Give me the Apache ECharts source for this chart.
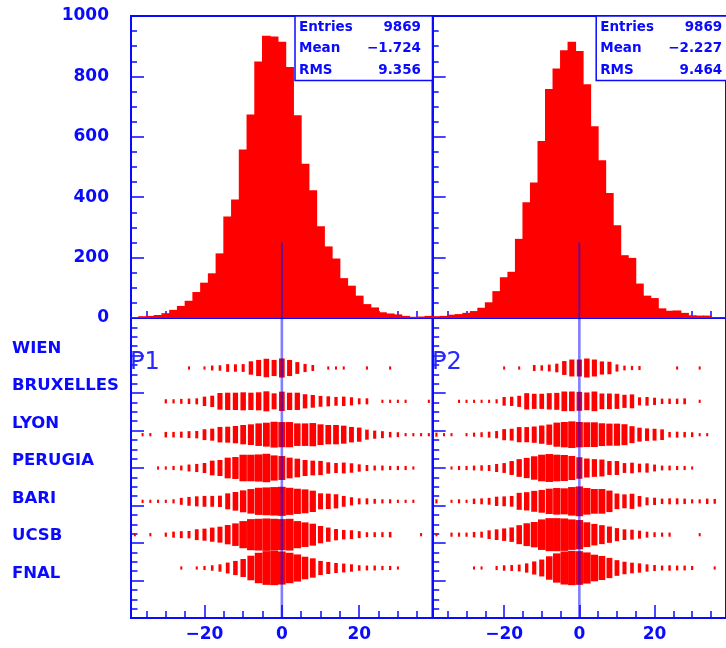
<!DOCTYPE html>
<html>
<head>
<meta charset="utf-8">
<script src="https://cdn.jsdelivr.net/npm/echarts@6/dist/echarts.min.js"></script>
<style>
  html, body { margin: 0; padding: 0; background: #fff; }
  #main { width: 726px; height: 648px; }
</style>
</head>
<body>
<div id="main"></div>
<script>
// bin centres (bin width 2, range -39..39)
const binCenters = [-38,-36,-34,-32,-30,-28,-26,-24,-22,-20,-18,-16,-14,-12,-10,-8,-6,-4,-2,0,
                    2,4,6,8,10,12,14,16,18,20,22,24,26,28,30,32,34,36,38]

// 1D histograms (top row)
const histP1 = [3,6,7,10,16,27,40,57,86,117,148,214,336,392,558,674,849,935,932,915,
                831,671,511,423,304,237,197,132,107,74,46,35,19,15,12,7,4,5,7]
const histP2 = [6,7,11,13,17,23,34,52,89,135,153,262,383,449,586,758,826,887,915,884,
                774,635,522,414,307,208,199,114,74,66,32,24,25,17,9,8,8,3,2]

// labs, top to bottom
const labs = ['WIEN', 'BRUXELLES', 'LYON', 'PERUGIA', 'BARI', 'UCSB', 'FNAL']

// P1 per lab
const p1Wien     = [0,0,0,0,0,0,0,1,0,1,3,4,9,8,9,30,45,60,45,64,45,23,10,5,0,1,1,1,0,0,1,0,0,1,0,0,0,0,0]
const p1Bruxelles= [0,0,0,0,2,2,3,4,5,14,21,48,52,52,57,52,57,71,44,66,52,52,34,27,19,16,12,14,10,5,5,0,1,1,1,1,0,0,1]
const p1Lyon     = [0,1,1,0,4,4,5,7,8,19,24,41,44,52,66,76,91,103,121,115,115,91,91,97,76,66,66,57,41,34,16,10,7,4,3,1,1,1,1]
const p1Perugia  = [0,0,0,1,1,2,3,7,10,16,37,44,76,86,128,128,134,148,115,103,76,61,44,37,34,21,16,19,14,8,5,3,3,2,2,2,1,0,0]
const p1Bari     = [0,1,1,1,1,2,7,12,16,19,19,21,44,61,86,109,134,141,148,155,134,115,103,81,44,41,34,19,10,5,5,3,2,2,1,1,1,0,0]
const p1Ucsb     = [1,0,1,0,2,5,7,8,19,24,34,44,66,91,134,178,186,194,186,178,186,134,109,86,52,34,21,14,12,7,3,3,3,4,0,0,0,1,0]
const p1Fnal     = [0,0,0,0,0,0,1,0,1,2,4,8,19,34,57,109,170,210,218,202,170,134,91,66,34,24,16,12,8,4,3,3,2,2,1,0,0,0,0]

// P2 per lab
const p2Wien     = [0,0,0,0,0,0,0,0,0,1,0,1,0,5,4,7,12,34,52,52,66,52,30,27,8,3,2,2,0,0,0,0,1,0,0,1,0,0,0]
const p2Bruxelles= [0,0,0,1,1,1,1,1,2,12,14,21,48,41,41,48,52,71,71,66,57,71,44,44,41,30,34,10,12,8,4,4,4,5,0,1,0,0,0]
const p2Lyon     = [2,1,1,0,1,2,3,5,8,21,24,41,41,48,61,76,109,121,134,121,115,115,97,91,91,81,52,34,27,24,19,4,5,4,3,1,1,0,0]
const p2Perugia  = [0,0,1,2,2,3,4,5,10,16,34,57,76,103,134,148,134,128,109,86,66,57,52,34,34,16,19,12,14,7,3,3,2,2,1,0,0,0,0]
const p2Bari     = [2,0,1,2,1,4,5,7,14,16,19,52,61,81,97,121,134,128,155,170,134,115,115,86,44,34,41,19,10,8,4,5,5,4,2,2,4,3,0]
const p2Ucsb     = [1,0,2,2,2,4,5,12,19,27,37,66,97,121,178,210,210,202,178,163,115,86,66,48,30,19,16,10,5,3,2,2,0,0,0,1,0,0,0]
const p2Fnal     = [0,0,0,0,0,1,1,0,2,4,5,7,14,30,52,103,163,210,227,218,186,134,109,76,44,27,19,14,8,5,3,4,3,3,2,0,0,1,0]

// stats boxes
const statNames = ['Entries', 'Mean', 'RMS']
const statsP1 = [9869, -1.724, 9.356]
const statsP2 = [9869, -2.227, 9.464]

// axis ticks
const xMajorTicks = [-20, 0, 20]
const xMinorTicks = [-35, -30, -25, -15, -10, -5, 5, 10, 15, 25, 30, 35]
const zeroLineTop = 250

const BLUE = '#0a0aff'
const RED = '#ff0000'
const FONT = '"DejaVu Sans", sans-serif'
const rowH = 8 / 9

const p1Rows = [p1Wien, p1Bruxelles, p1Lyon, p1Perugia, p1Bari, p1Ucsb, p1Fnal]
const p2Rows = [p2Wien, p2Bruxelles, p2Lyon, p2Perugia, p2Bari, p2Ucsb, p2Fnal]

const minus = (s) => String(s).replace('-', '\u2212')

// build [x, y, count] for box plot
const boxData = (rows) => {
  const out = []
  rows.forEach((row, i) => {
    row.forEach((n, j) => {
      if (n > 0) out.push([binCenters[j], (7 - i + 0.5) * rowH, n])
    })
  })
  return out
}
const histData = (h) => h.map((n, j) => [binCenters[j], n])

// bars overlap their neighbours a little so no white seams show
const histItem = (params, api) => {
  const c = api.value(0), n = api.value(1)
  const a = api.coord([c - 1, n])
  const b = api.coord([c + 1, 0])
  return {
    type: 'rect',
    shape: { x: a[0] - 0.5, y: a[1], width: b[0] - a[0] + 1, height: b[1] - a[1] },
    style: { fill: RED }
  }
}

// box size ~ sqrt(content / max), a little fatter like the anti-aliased original
const boxItem = (cmax) => (params, api) => {
  const c = api.value(0), y = api.value(1), n = api.value(2)
  const f = Math.sqrt(n / cmax)
  const ctr = api.coord([c, y])
  const sz = api.size([2 * f, rowH * f])
  const binPx = api.size([2, 0])[0]
  const w = Math.min(sz[0] + 1.5, binPx), h = sz[1] + 1
  return {
    type: 'rect',
    shape: { x: ctr[0] - w / 2, y: ctr[1] - h / 2, width: w, height: h },
    style: { fill: RED }
  }
}

const lineStyle = { color: BLUE, width: 2 }
const tickStyle = { color: BLUE, width: 1.5 }

const xAxes = (grid, showLabels) => [
  {
    type: 'value', gridIndex: grid, min: -39, max: 39, position: 'bottom',
    axisLine: { show: true, onZero: false, lineStyle: lineStyle },
    axisTick: { show: true, inside: true, length: 13, customValues: xMajorTicks, lineStyle: tickStyle },
    axisLabel: {
      show: showLabels, customValues: xMajorTicks, formatter: (v) => minus(v),
      color: BLUE, fontSize: 17, fontWeight: 'bold', fontFamily: FONT, margin: 8
    },
    splitLine: { show: false }
  },
  {
    type: 'value', gridIndex: grid, min: -39, max: 39, position: 'bottom',
    axisLine: { show: false, onZero: false },
    axisTick: { show: true, inside: true, length: 7, customValues: xMinorTicks, lineStyle: tickStyle },
    axisLabel: { show: false },
    splitLine: { show: false }
  }
]

const yTop = (grid, showLabels) => ({
  type: 'value', gridIndex: grid, min: 0, max: 1000, interval: 200, position: 'left',
  axisLine: { show: true, onZero: false, lineStyle: lineStyle },
  axisTick: { show: true, inside: true, length: 13, lineStyle: tickStyle },
  minorTick: { show: true, splitNumber: 4, length: 6, lineStyle: tickStyle },
  axisLabel: {
    show: showLabels, formatter: (v) => String(v),
    color: BLUE, fontSize: 17, fontWeight: 'bold', fontFamily: FONT, margin: 22
  },
  splitLine: { show: false }
})

const yBottom = (grid, showLabels) => ({
  type: 'value', gridIndex: grid, min: 0, max: 8, interval: 1, position: 'left',
  axisLine: { show: true, onZero: false, lineStyle: lineStyle },
  axisTick: { show: true, inside: true, length: 13, lineStyle: tickStyle },
  minorTick: { show: true, splitNumber: 4, length: 6.5, lineStyle: tickStyle },
  axisLabel: {
    show: showLabels, formatter: (v) => labs[7 - v] || '',
    align: 'left', verticalAlign: 'bottom', lineHeight: 14, margin: 119,
    color: BLUE, fontSize: 16.5, fontWeight: 'bold', fontFamily: FONT
  },
  splitLine: { show: false }
})

const gridBase = { show: true, borderColor: BLUE, borderWidth: 2, containLabel: false }

const zeroLine = (xi, yi, top, color, width) => ({
  type: 'line', xAxisIndex: xi, yAxisIndex: yi, silent: true, symbol: 'none', z: 5,
  data: [[0, 0], [0, top]],
  lineStyle: { color: color, width: width }
})

const statsBox = (x0, stats) => {
  const els = [{
    type: 'rect', z: 20,
    shape: { x: x0, y: 16, width: 137.5, height: 64.5 },
    style: { fill: '#fff', stroke: BLUE, lineWidth: 1.5 }
  }]
  statNames.forEach((name, i) => {
    const y = 27 + i * 21.5
    els.push({
      type: 'text', z: 21, x: x0 + 4, y: y,
      style: { text: name, font: 'bold 13.5px ' + FONT, fill: BLUE, verticalAlign: 'middle', align: 'left' }
    })
    els.push({
      type: 'text', z: 21, x: x0 + 126, y: y,
      style: { text: minus(stats[i]), font: 'bold 13.5px ' + FONT, fill: BLUE, verticalAlign: 'middle', align: 'right' }
    })
  })
  return els
}

const chart = echarts.init(document.getElementById('main'), null, { renderer: 'canvas' })

const option = {
  animation: false,
  backgroundColor: '#fff',
  title: [
    { text: 'P1', left: 130, top: 351, padding: 0,
      textStyle: { color: '#2828ff', fontSize: 24, fontWeight: 'normal', fontFamily: FONT } },
    { text: 'P2', left: 432, top: 351, padding: 0,
      textStyle: { color: '#2828ff', fontSize: 24, fontWeight: 'normal', fontFamily: FONT } }
  ],
  grid: [
    Object.assign({ left: 131, top: 16, width: 301.7, height: 302 }, gridBase),
    Object.assign({ left: 432.7, top: 16, width: 301, height: 302 }, gridBase),
    Object.assign({ left: 131, top: 318, width: 301.7, height: 300 }, gridBase),
    Object.assign({ left: 432.7, top: 318, width: 301, height: 300 }, gridBase)
  ],
  xAxis: [].concat(xAxes(0, false), xAxes(1, false), xAxes(2, true), xAxes(3, true)),
  yAxis: [yTop(0, true), yTop(1, false), yBottom(2, true), yBottom(3, false)],
  series: [
    { type: 'custom', xAxisIndex: 0, yAxisIndex: 0, renderItem: histItem, data: histData(histP1), clip: true },
    { type: 'custom', xAxisIndex: 2, yAxisIndex: 1, renderItem: histItem, data: histData(histP2), clip: true },
    { type: 'custom', xAxisIndex: 4, yAxisIndex: 2, renderItem: boxItem(Math.max(...p1Rows.flat())), data: boxData(p1Rows), clip: true },
    { type: 'custom', xAxisIndex: 6, yAxisIndex: 3, renderItem: boxItem(Math.max(...p2Rows.flat())), data: boxData(p2Rows), clip: true },
    zeroLine(0, 0, zeroLineTop, 'rgba(20,20,235,0.75)', 1.8),
    zeroLine(2, 1, zeroLineTop, 'rgba(20,20,235,0.75)', 1.8),
    zeroLine(4, 2, 8, 'rgba(0,0,255,0.5)', 2.6),
    zeroLine(6, 3, 8, 'rgba(0,0,255,0.5)', 2.6)
  ],
  graphic: [].concat(statsBox(295, statsP1), statsBox(596.2, statsP2))
}

chart.setOption(option)
</script>
</body>
</html>
